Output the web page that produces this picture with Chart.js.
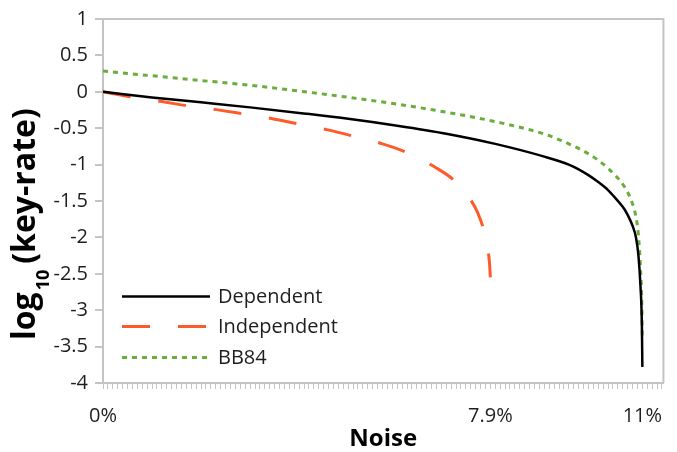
<!DOCTYPE html>
<html><head><meta charset="utf-8">
<script src="https://cdn.jsdelivr.net/npm/chart.js@4.4.1/dist/chart.umd.min.js"></script>
<style>html,body{margin:0;padding:0;background:#fff;}</style>
</head><body>
<canvas id="c" width="677" height="452"></canvas>
<script>
// ---- data ----
const noiseDep = [0, 0.01, 0.02, 0.03, 0.04, 0.05, 0.06, 0.07, 0.08, 0.09, 0.095, 0.097, 0.099, 0.101, 0.103, 0.1045, 0.106, 0.107, 0.108, 0.1087, 0.1092, 0.1096, 0.1099, 0.11];
const dependent = [0, -0.077, -0.145, -0.214, -0.29, -0.37, -0.465, -0.575, -0.715, -0.89, -1.0, -1.065, -1.145, -1.24, -1.35, -1.46, -1.58, -1.69, -1.84, -2.0, -2.25, -2.65, -3.2, -3.78];

const noiseInd = [0, 0.0058, 0.0116, 0.017, 0.0231, 0.0285, 0.0343, 0.0399, 0.0456, 0.0512, 0.057, 0.062, 0.0675, 0.072, 0.0758, 0.077, 0.0779, 0.0784, 0.0788, 0.079];
const independent = [0, -0.07, -0.13, -0.19, -0.245, -0.30, -0.366, -0.442, -0.52, -0.612, -0.715, -0.835, -1.027, -1.242, -1.575, -1.76, -1.96, -2.13, -2.33, -2.55];

const noiseBB = [0, 0.01, 0.02, 0.03, 0.04, 0.05, 0.06, 0.07, 0.08, 0.09, 0.095, 0.099, 0.101, 0.103, 0.1045, 0.106, 0.107, 0.108, 0.1087, 0.1092, 0.1096, 0.1099, 0.11];
const bb84 = [0.285, 0.22, 0.155, 0.09, 0.01, -0.075, -0.17, -0.28, -0.41, -0.58, -0.715, -0.85, -0.94, -1.05, -1.15, -1.27, -1.38, -1.54, -1.72, -1.97, -2.4, -2.95, -3.39];

const seriesLabels = ['Dependent', 'Independent', 'BB84'];
const xTickValues = [0, 0.079, 0.11];
const xTickLabels = ['0%', '7.9%', '11%'];
const yTickValues = [1, 0.5, 0, -0.5, -1, -1.5, -2, -2.5, -3, -3.5, -4];
const yTickLabels = ['1', '0.5', '0', '-0.5', '-1', '-1.5', '-2', '-2.5', '-3', '-3.5', '-4'];
const xMinorTicks = Array.from({length: 115}, (_, i) => i / 1000);

const FONT = "'Open Sans', 'Liberation Sans', sans-serif";
const AXIS_GRAY = '#c4c4c4';
const TEXT = '#1e1e1e';

const pts = (xs, ys) => xs.map((x, i) => ({x: x, y: ys[i]}));

const framePlugin = {
  id: 'frame',
  beforeDatasetsDraw(chart) {
    const {ctx, chartArea: a} = chart;
    ctx.save();
    ctx.strokeStyle = AXIS_GRAY;
    ctx.lineWidth = 2;
    ctx.beginPath();
    ctx.moveTo(a.left, a.top);
    ctx.lineTo(a.right, a.top);
    ctx.lineTo(a.right, a.bottom);
    ctx.stroke();
    ctx.restore();
  }
};

const yTitlePlugin = {
  id: 'yTitle',
  afterDraw(chart) {
    const ctx = chart.ctx;
    ctx.save();
    ctx.translate(35, 340);
    ctx.rotate(-Math.PI / 2);
    ctx.fillStyle = '#000';
    ctx.textBaseline = 'alphabetic';
    ctx.textAlign = 'left';
    ctx.font = 'bold 32px ' + FONT;
    ctx.fillText('log', 0, 0);
    const w1 = ctx.measureText('log').width;
    ctx.font = 'bold 18px ' + FONT;
    ctx.fillText('10', w1 + 2, 14);
    const w2 = ctx.measureText('10').width;
    ctx.font = 'bold 32px ' + FONT;
    ctx.fillText('(key-rate)', w1 + 2 + w2 + 6, 0);
    ctx.restore();
  }
};

const legendPlugin = {
  id: 'insideLegend',
  afterDatasetsDraw(chart) {
    const {ctx, chartArea: a} = chart;
    const rows = [277.5, 307.5, 338.5];
    ctx.save();
    chart.data.datasets.forEach((ds, i) => {
      const y = a.top + rows[i];
      ctx.beginPath();
      ctx.strokeStyle = ds.borderColor;
      ctx.lineWidth = ds.borderWidth;
      ctx.setLineDash(ds.borderDash || []);
      ctx.moveTo(a.left + 19, y);
      ctx.lineTo(a.left + 107, y);
      ctx.stroke();
      ctx.setLineDash([]);
      ctx.fillStyle = TEXT;
      ctx.font = '20px ' + FONT;
      ctx.textBaseline = 'middle';
      ctx.fillText(ds.label, a.left + 115, y + 1);
    });
    ctx.restore();
  }
};

new Chart(document.getElementById('c'), {
  type: 'line',
  data: {
    datasets: [
      {label: seriesLabels[0], data: pts(noiseDep, dependent), borderColor: '#000000', borderWidth: 2.5, pointRadius: 0, cubicInterpolationMode: 'monotone'},
      {label: seriesLabels[1], data: pts(noiseInd, independent), borderColor: '#ff5a2a', borderWidth: 3, borderDash: [28, 28], pointRadius: 0, cubicInterpolationMode: 'monotone'},
      {label: seriesLabels[2], data: pts(noiseBB, bb84), borderColor: '#6aad3a', borderWidth: 3, borderDash: [5, 5], pointRadius: 0, cubicInterpolationMode: 'monotone'}
    ]
  },
  options: {
    responsive: false,
    animation: false,
    devicePixelRatio: 1,
    layout: {padding: {top: 17, right: 12, left: 0, bottom: 0}},
    plugins: {legend: {display: false}, tooltip: {enabled: false}},
    scales: {
      x: {
        type: 'linear', min: 0, max: 0.1143,
        afterBuildTicks: s => { s.ticks = xMinorTicks.map(v => ({value: v})); },
        afterFit: s => { s.height = 69; },
        ticks: {
          autoSkip: false, maxRotation: 0, minRotation: 0, padding: 15,
          color: TEXT, font: {family: FONT, size: 20},
          callback: v => {
            const i = xTickValues.findIndex(t => Math.abs(t - v) < 1e-9);
            return i >= 0 ? xTickLabels[i] : '';
          }
        },
        grid: {drawOnChartArea: false, drawTicks: true, tickLength: 6, color: AXIS_GRAY, lineWidth: 1},
        border: {color: AXIS_GRAY, width: 2},
        title: {display: true, text: 'Noise', color: '#000', font: {family: FONT, size: 24, weight: 'bold'}, padding: {top: 0, bottom: -2}}
      },
      y: {
        min: -4, max: 1,
        afterBuildTicks: s => { s.ticks = yTickValues.map(v => ({value: v})); },
        afterFit: s => { s.width = 103; },
        ticks: {
          padding: 7, color: TEXT, font: {family: FONT, size: 20},
          callback: v => {
            const i = yTickValues.findIndex(t => Math.abs(t - v) < 1e-9);
            return i >= 0 ? yTickLabels[i] : '';
          }
        },
        grid: {drawOnChartArea: false, drawTicks: true, tickLength: 8, color: AXIS_GRAY, lineWidth: 2},
        border: {color: AXIS_GRAY, width: 2}
      }
    }
  },
  plugins: [framePlugin, legendPlugin, yTitlePlugin]
});
</script>
</body></html>
